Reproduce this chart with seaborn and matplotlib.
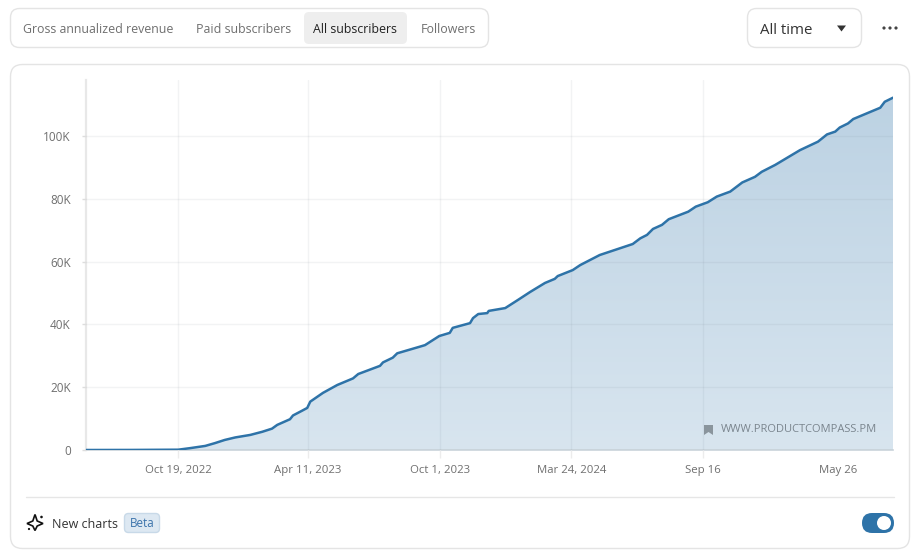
import numpy as np
import pandas as pd
import seaborn as sns
import matplotlib
matplotlib.use('Agg')
import matplotlib.pyplot as plt
from matplotlib.patches import FancyBboxPatch, Circle, Polygon, PathPatch
from matplotlib.path import Path

# days since the first data point, and subscribers in thousands
days = [0, 60, 123, 139, 159, 172, 185, 199, 219, 235, 248, 255, 272, 276, 288, 295, 299,
        316, 335, 356, 363, 392, 396, 409, 415, 445, 452, 471, 485, 489, 512, 516, 523, 535,
        537, 559, 576, 592, 612, 625, 629, 649, 659, 685, 729, 739, 748, 756, 768, 777,
        803, 813, 829, 841, 859, 875, 892, 901, 919, 952, 976, 988, 999, 1005, 1016, 1023,
        1059, 1065, 1076]
subs = [0, 0.02, 0.1, 0.6, 1.3, 2.2, 3.2, 4.0, 4.8, 5.8, 6.8, 8.0, 9.8, 11.0, 12.5, 13.4, 15.4,
        18.2, 20.7, 22.8, 24.2, 26.8, 27.9, 29.4, 30.8, 32.9, 33.4, 36.3, 37.3, 38.9, 40.4, 42.0, 43.3, 43.6,
        44.3, 45.2, 47.8, 50.3, 53.2, 54.5, 55.4, 57.3, 58.9, 62.1, 65.6, 67.4, 68.5, 70.4, 71.7, 73.5,
        75.9, 77.5, 78.9, 80.7, 82.3, 85.2, 87.0, 88.6, 90.8, 95.5, 98.2, 100.5, 101.4, 102.7, 104.0, 105.4,
        109.0, 110.9, 112.2]
tick_days = [123, 296, 472, 647, 823, 1003]
tick_labels = ['Oct 19, 2022', 'Apr 11, 2023', 'Oct 1, 2023', 'Mar 24, 2024', 'Sep 16', 'May 26']
y_ticks = [0, 20, 40, 60, 80, 100]
y_labels = ['0', '20K', '40K', '60K', '80K', '100K']
tabs = ['Gross annualized revenue', 'Paid subscribers', 'All subscribers', 'Followers']

df = pd.DataFrame({'days': days, 'subs': subs})

sns.set_theme(style='white')
plt.rcParams['font.family'] = ['Open Sans', 'DejaVu Sans']

W, H = 920, 557
fig = plt.figure(figsize=(W / 100, H / 100), dpi=100, facecolor='white')

# page furniture, in pixel coordinates
bg = fig.add_axes([0, 0, 1, 1], zorder=0)
bg.set_xlim(0, W)
bg.set_ylim(H, 0)
bg.axis('off')

def box(x0, y0, x1, y1, r, fc='white', ec='#e4e4e4', lw=1.0):
    p = FancyBboxPatch((x0 + r, y0 + r), x1 - x0 - 2 * r, y1 - y0 - 2 * r,
                       boxstyle='round,pad=%g,rounding_size=%g' % (r, r),
                       fc=fc, ec=ec, lw=lw)
    bg.add_patch(p)

box(10.5, 8.5, 488.5, 47.5, 9)
box(304, 12, 407, 44, 5, fc='#eeeeee', ec='none', lw=0)
box(747.5, 8.5, 861.5, 47.5, 9)
box(10.5, 64.5, 909.5, 548.5, 12)

tab_x = [23, 196, 313, 421]
for i in range(len(tabs)):
    color = '#222222' if i == 2 else '#6f6f6f'
    bg.text(tab_x[i], 29.4, tabs[i], fontsize=8.95, color=color, va='center', ha='left')

bg.text(760, 30, 'All time', fontsize=10.8, color='#333333', va='center', ha='left')
bg.add_patch(Polygon([[837, 25.5], [846, 25.5], [841.5, 31.5]], fc='#333333', ec='none'))
for cx in [884, 890, 896]:
    bg.add_patch(Circle((cx, 28), 1.6, fc='#444444', ec='none'))

bg.plot([26, 894], [496.5, 496.5], color='#e6e6e6', lw=1)

# sparkle icon
star = [[35, 514.5], [37.2, 521], [43, 523.5], [37.2, 526], [35, 530.5], [32.8, 526], [27, 523.5], [32.8, 521]]
bg.add_patch(Polygon(star, closed=True, fc='white', ec='#111111', lw=1.2))
bg.add_patch(Circle((41.5, 517), 1.3, fc='#111111', ec='none'))
bg.add_patch(Circle((29, 529), 1.1, fc='#111111', ec='none'))
bg.text(52, 524, 'New charts', fontsize=9.0, color='#333333', va='center', ha='left')
box(124.5, 513.5, 159.5, 532.5, 4, fc='#dde8f2', ec='#c8d9e8')
bg.text(142, 523.5, 'Beta', fontsize=8.4, color='#3b73ab', va='center', ha='center')

box(862, 513, 894, 533, 10, fc='#2e73a8', ec='none', lw=0)
bg.add_patch(Circle((884, 523), 7, fc='white', ec='none'))

# chart area
ax = fig.add_axes([86 / W, 1 - 450 / H, (893 - 86) / W, (450 - 80) / H], zorder=1)
ax.patch.set_alpha(0)
x_max = 1076
y_max = 370 / 3.14

# fill, a soft gradient clipped under the curve
grad = np.linspace(0, 1, 256).reshape(-1, 1)
cmap = matplotlib.colors.LinearSegmentedColormap.from_list('fill', ['#bcd2e3', '#d8e5ef'])
im = ax.imshow(grad, extent=[0, x_max, 0, max(subs)], origin='upper', aspect='auto',
               cmap=cmap, zorder=1)
verts = list(zip(days, subs)) + [(x_max, 0), (0, 0)]
im.set_clip_path(PathPatch(Path(verts), transform=ax.transData))
ax.set_xlim(0, x_max)
ax.set_ylim(0, y_max)

ax.set_xticks(tick_days)
ax.set_xticklabels(tick_labels)
ax.set_yticks(y_ticks)
ax.set_yticklabels(y_labels)
ax.grid(True, color='#6f7f8c', alpha=0.09, lw=1)
ax.set_axisbelow(False)

sns.lineplot(data=df, x='days', y='subs', ax=ax, color='#2e73a8', lw=1.8, zorder=3, errorbar=None,
             sort=False, estimator=None)
ax.set_xlabel('')
ax.set_ylabel('')

sns.despine(ax=ax, top=True, right=True)
ax.spines['left'].set_color('#e8e8e8')
ax.spines['left'].set_linewidth(1.6)
ax.spines['bottom'].set_color('#c9d3da')
ax.spines['bottom'].set_linewidth(1.2)
ax.tick_params(axis='x', length=6, color='#ececec', labelsize=8.2, labelcolor='#6f6f6f', pad=5,
               bottom=True, width=1)
ax.tick_params(axis='y', length=3, color='#dddddd', labelsize=8.5, labelcolor='#6f6f6f', pad=8,
               left=True, width=1)
# the last date has a label but no gridline
last_tick = ax.xaxis.get_major_ticks()[-1]
last_tick.gridline.set_visible(False)
last_tick.tick1line.set_visible(False)

# watermark
bg2 = fig.add_axes([0, 0, 1, 1], zorder=2)
bg2.set_xlim(0, W)
bg2.set_ylim(H, 0)
bg2.axis('off')
bg2.patch.set_alpha(0)
bg2.add_patch(Polygon([[704, 425], [713, 425], [713, 435], [708.5, 432], [704, 435]], fc='#8a959d', ec='none'))
bg2.text(721, 430, 'WWW.PRODUCTCOMPASS.PM', fontsize=8.05, color='#7a858e', va='center', ha='left')

fig.savefig('out.png', dpi=100)
